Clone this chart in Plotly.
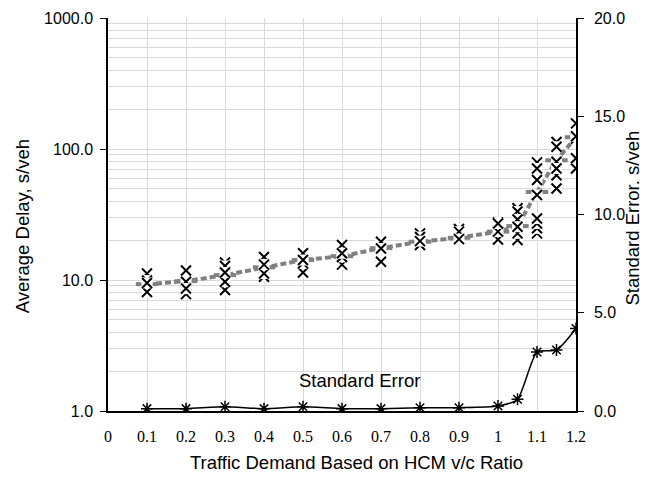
import plotly.graph_objects as go

# ---------------- data ----------------
demand = [0.1, 0.2, 0.3, 0.4, 0.5, 0.6, 0.7, 0.8, 0.9, 1.0, 1.05, 1.1, 1.15, 1.2]
mean_delay = [9.3, 9.8, 10.9, 12.5, 14.2, 15.2, 17.5, 19.6, 21.0, 23.4, 25.8, 47, 82, 123]
std_error = [0.12, 0.12, 0.22, 0.12, 0.22, 0.12, 0.12, 0.17, 0.17, 0.25, 0.6, 3.0, 3.1, 4.2]
run_delays = [
    [11.2, 8.1, 9.9, 9.5],
    [9.7, 7.8, 11.8, 8.6],
    [13.6, 8.4, 12.8, 9.7, 11.4],
    [15.0, 10.6, 11.2, 13.1],
    [16.0, 11.4, 13.4, 14.2],
    [18.5, 13.1, 15.0, 16.0],
    [19.6, 13.8, 17.4],
    [22.7, 18.5, 21.3, 19.8],
    [24.5, 23.4, 20.5],
    [27.5, 20.4, 23.4, 27.0],
    [35.3, 20.2, 33.3, 22.7, 29.0, 25.5],
    [79, 22.7, 71, 24.8, 58, 27, 44.6, 29.5],
    [113, 50, 104, 63, 80, 71],
    [157, 71, 85, 120, 125],
]
x_tickvals = [0, 0.1, 0.2, 0.3, 0.4, 0.5, 0.6, 0.7, 0.8, 0.9, 1.0, 1.1, 1.2]
x_ticktext = ["0", "0.1", "0.2", "0.3", "0.4", "0.5", "0.6", "0.7", "0.8", "0.9", "1", "1.1", "1.2"]
y_tickvals = [1, 10, 100, 1000]
y_ticktext = ["1.0", "10.0", "100.0", "1000.0"]
y2_tickvals = [0, 5, 10, 15, 20]
y2_ticktext = ["0.0", "5.0", "10.0", "15.0", "20.0"]
y_minor = [m * d for d in (1, 10, 100) for m in range(2, 10)]

SANS = "Liberation Sans, Arial, sans-serif"
SERIF = "Liberation Serif, Times New Roman, serif"
TICK = 16
TITLE = 18.5

fig = go.Figure()

# mean delay: gray dashed line with dash markers
fig.add_trace(go.Scatter(
    x=demand, y=mean_delay, mode="lines+markers",
    line=dict(color="#808080", width=4, dash="6px,3px"),
    marker=dict(symbol="line-ew-open", size=16, line=dict(color="#808080", width=4)),
    showlegend=False, hoverinfo="skip"))

# individual runs: X markers with white square backgrounds
max_runs = max(len(r) for r in run_delays)
for i in range(max_runs):
    xs = [demand[k] for k, r in enumerate(run_delays) if len(r) > i]
    ys = [r[i] for r in run_delays if len(r) > i]
    fig.add_trace(go.Scatter(
        x=xs, y=ys, mode="markers",
        marker=dict(symbol="square", size=11, color="white", line=dict(width=0)),
        showlegend=False, hoverinfo="skip"))
    fig.add_trace(go.Scatter(
        x=xs, y=ys, mode="markers",
        marker=dict(symbol="x-thin-open", size=10, color="black", line=dict(color="black", width=2)),
        showlegend=False, hoverinfo="skip"))

# standard error on the right axis
fig.add_trace(go.Scatter(
    x=demand, y=std_error, mode="lines+markers", yaxis="y2",
    line=dict(color="black", width=1.5, shape="spline", smoothing=0.6),
    marker=dict(symbol="asterisk-open", size=10, color="black", line=dict(color="black", width=1.5)),
    showlegend=False, hoverinfo="skip"))

title_font = dict(family=SANS, size=TITLE, color="black")
fig.add_annotation(x=0.646, y=0.23, xref="x", yref="y", text="Standard Error",
                   showarrow=False, font=title_font)
fig.add_annotation(x=-0.184, y=0.47, xref="paper", yref="paper", text="Average Delay, s/veh",
                   textangle=-90, showarrow=False, font=title_font, xanchor="center", yanchor="middle")
fig.add_annotation(x=1.12, y=0.49, xref="paper", yref="paper", text="Standard Error. s/veh",
                   textangle=-90, showarrow=False, font=title_font, xanchor="center", yanchor="middle")
fig.add_annotation(x=0.53, y=-0.13, xref="paper", yref="paper", text="Traffic Demand Based on HCM v/c Ratio",
                   showarrow=False, font=title_font, xanchor="center", yanchor="middle")

# the page body adds an 8px offset, so the figure is sized to fit the window
fig.update_layout(
    width=641, height=469,
    margin=dict(l=100, r=73, t=10, b=66, autoexpand=False),
    paper_bgcolor="white", plot_bgcolor="white",
    font=dict(family=SANS, size=TICK, color="black"),
    xaxis=dict(
        range=[0, 1.2], tickmode="array", tickvals=x_tickvals, ticktext=x_ticktext,
        tickfont=dict(family=SERIF, size=TICK, color="black"),
        showgrid=True, gridcolor="#d9d9d9", gridwidth=1,
        showline=True, linecolor="black", linewidth=1.5, ticks="", ticklabelstandoff=10,
        zeroline=False, automargin=False,
    ),
    yaxis=dict(
        type="log", range=[0, 3], tickmode="array", tickvals=y_tickvals, ticktext=y_ticktext,
        tickfont=dict(family=SANS, size=TICK, color="black"),
        showgrid=True, gridcolor="#d9d9d9", gridwidth=1,
        minor=dict(tickmode="array", tickvals=y_minor, showgrid=True, gridcolor="#d9d9d9", gridwidth=1, ticks=""),
        showline=True, linecolor="black", linewidth=1.5, ticks="outside", ticklen=6, tickcolor="black",
        ticklabelstandoff=4, zeroline=False, automargin=False,
    ),
    yaxis2=dict(
        overlaying="y", side="right", range=[0, 20], tickmode="array",
        tickvals=y2_tickvals, ticktext=y2_ticktext,
        tickfont=dict(family=SANS, size=TICK, color="black"),
        showgrid=False, showline=True, linecolor="black", linewidth=1.5,
        ticks="outside", ticklen=6, tickcolor="black", ticklabelstandoff=7,
        zeroline=False, automargin=False,
    ),
    # inner half of the crossing tick marks on the right axis
    yaxis3=dict(
        overlaying="y", side="right", range=[0, 20], tickmode="array",
        tickvals=y2_tickvals, showticklabels=False, showgrid=False, showline=False,
        ticks="inside", ticklen=6, tickcolor="black", zeroline=False, automargin=False,
    ),
)

fig.write_html("out.html")
